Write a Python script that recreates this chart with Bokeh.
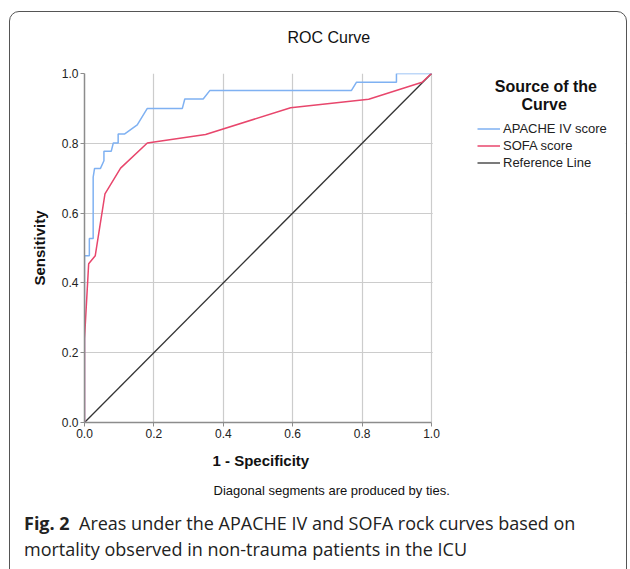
from bokeh.plotting import figure
from bokeh.models import Range1d, Legend, LegendItem, FixedTicker, Title, Div, BoxAnnotation
from bokeh.layouts import column
from bokeh.embed import file_html
from bokeh.resources import INLINE

# ---- data ----
apache_fpr = [0.0, 0.0, 0.014, 0.014, 0.025, 0.025, 0.029, 0.046, 0.056, 0.056, 0.077, 0.083,
              0.097, 0.097, 0.116, 0.152, 0.181, 0.282, 0.289, 0.342, 0.361, 0.769, 0.784,
              0.899, 0.899, 1.0]
apache_tpr = [0.0, 0.478, 0.478, 0.527, 0.527, 0.703, 0.728, 0.728, 0.750, 0.777, 0.777, 0.801,
              0.801, 0.827, 0.827, 0.853, 0.900, 0.900, 0.927, 0.927, 0.951, 0.951, 0.975,
              0.975, 1.0, 1.0]
sofa_fpr = [0.0, 0.0, 0.012, 0.031, 0.059, 0.104, 0.181, 0.349, 0.594, 0.819, 0.973, 1.0]
sofa_tpr = [0.0, 0.24, 0.455, 0.478, 0.655, 0.729, 0.801, 0.825, 0.902, 0.926, 0.975, 1.0]
ref_x = [0.0, 1.0]
ref_y = [0.0, 1.0]
ticks = [0.0, 0.2, 0.4, 0.6, 0.8, 1.0]
tick_labels = ["0.0", "0.2", "0.4", "0.6", "0.8", "1.0"]
series_names = ["APACHE IV score", "SOFA score", "Reference Line"]
caption_bold = "Fig. 2"
caption_text = ["Areas under the APACHE IV and SOFA rock curves based on",
                "mortality observed in non-trauma patients in the ICU"]

# ---- layout ----
W = 630
PH = 510                      # figure height; caption below it
CAP_H = 569 - PH
FL, FR, FT, FB = 84, 431, 73, 422   # pixel box of the 0..1 square
FRAME_R = 625                       # frame extends right to hold the legend
F = "Liberation Sans"
CF = "Open Sans"
NB = "\u00a0"

x_end = (FRAME_R - FL) / (FR - FL)

p = figure(width=W, height=PH, x_range=Range1d(0, x_end), y_range=Range1d(0, 1),
           output_backend="svg", toolbar_location=None,
           min_border_left=FL, min_border_right=W - FRAME_R,
           min_border_top=FT, min_border_bottom=PH - FB)
p.outline_line_color = None
p.background_fill_color = "white"
p.border_fill_color = "white"

overrides = {t: l for t, l in zip(ticks, tick_labels)}
for ax in (p.xaxis[0], p.yaxis[0]):
    ax.ticker = FixedTicker(ticks=ticks)
    ax.major_label_overrides = overrides
    ax.axis_line_color = "#8c8c8c"
    ax.axis_line_width = 1.5
    ax.major_tick_line_color = "#8c8c8c"
    ax.major_tick_in = 0
    ax.major_tick_out = 4
    ax.minor_tick_line_color = None
    ax.major_label_text_font = F
    ax.major_label_text_font_size = "12px"
    ax.major_label_text_color = "#222222"
    ax.major_label_standoff = 2
    ax.axis_label_text_font = F
    ax.axis_label_text_font_size = "15px"
    ax.axis_label_text_font_style = "bold"
    ax.axis_label_text_color = "#111111"
    ax.bounds = (0, 1)
p.yaxis[0].major_label_orientation = "horizontal"
p.yaxis[0].axis_label = "Sensitivity"
p.yaxis[0].axis_label_standoff = 11

for g in (p.xgrid[0], p.ygrid[0]):
    g.ticker = FixedTicker(ticks=ticks)
    g.grid_line_color = "#cccccc"
    g.grid_line_width = 1.2

# hide the grid lines to the right of x = 1 (legend area)
p.add_layout(BoxAnnotation(left=1.0035, fill_color="white", fill_alpha=1.0,
                           line_color=None, level="underlay"), "center")

r_ref = p.line(ref_x, ref_y, line_color="#333333", line_width=1.3)
r_apache = p.line(apache_fpr, apache_tpr, line_color="#7fb1f2", line_width=1.5)
r_sofa = p.line(sofa_fpr, sofa_tpr, line_color="#e8466c", line_width=1.5)

legend = Legend(items=[LegendItem(label=series_names[0], renderers=[r_apache]),
                       LegendItem(label=series_names[1], renderers=[r_sofa]),
                       LegendItem(label=series_names[2], renderers=[r_ref])],
                location=(393, 251.5), padding=0, margin=0, spacing=0,
                label_height=17, glyph_height=17, glyph_width=23, label_standoff=3,
                label_text_font=F, label_text_font_size="13px",
                label_text_color="#222222",
                title=NB * 4 + "Source of the\n" + NB * 10 + "Curve",
                title_text_font=F, title_text_font_size="16px", title_text_font_style="bold",
                title_text_color="#111111", title_text_line_height=0.8, title_standoff=6,
                border_line_color=None, background_fill_alpha=0)
p.add_layout(legend, "center")

p.add_layout(Title(text="ROC Curve", align="left", offset=203, standoff=52, vertical_align="top",
                   text_font=F, text_font_size="16px", text_font_style="normal",
                   text_color="#111111"), "above")

# x-axis title, centred under the 0..1 square
p.add_layout(Title(text="1 - Specificity", align="left", offset=128, standoff=23,
                   vertical_align="top", text_font=F, text_font_size="15px",
                   text_font_style="bold", text_color="#111111"), "below")
p.add_layout(Title(text="Diagonal segments are produced by ties.", align="left", offset=129,
                   standoff=1, vertical_align="top", text_font=F, text_font_size="13px",
                   text_font_style="normal", text_color="#111111"), "below")

cap = Div(text=f"<b>{caption_bold}</b>&nbsp; {caption_text[0]}<br>{caption_text[1]}",
          width=W, height=CAP_H, margin=(0, 0, 0, 0),
          styles={"font-family": CF, "font-size": "18px", "line-height": "26px",
                  "color": "#222222", "padding-left": "24px", "padding-top": "0px",
                  "white-space": "nowrap", "background": "white"})

layout = column(p, cap, spacing=0, margin=(0, 0, 0, 0))
layout.stylesheets = [""":host { position: relative; overflow: hidden; background: white; }
:host::after { content: ""; position: absolute; left: 9px; top: 11px; width: 616px; height: 620px;
  border: 1.3px solid #555555; border-radius: 10px; pointer-events: none; z-index: 10; }"""]

open("out.html", "w").write(file_html(layout, INLINE))
